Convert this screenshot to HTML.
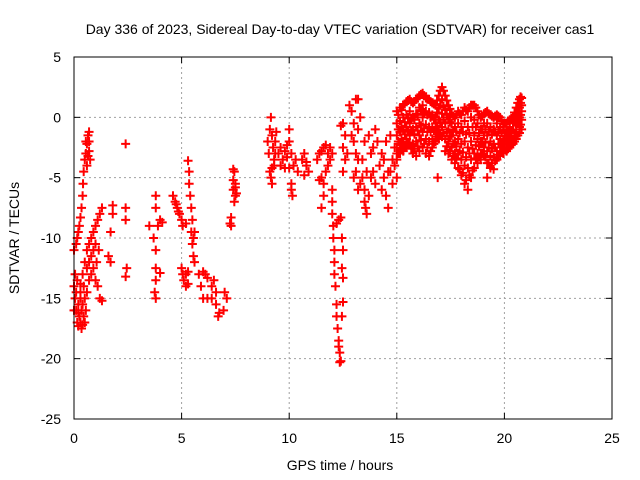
<!DOCTYPE html>
<html><head><meta charset="utf-8"><style>
body{margin:0;background:#fff;}
svg{display:block;font-family:"Liberation Sans",sans-serif;}
</style></head><body>
<svg id="chart" width="640" height="480" xmlns="http://www.w3.org/2000/svg">
<rect width="640" height="480" fill="#fff"/>
<text x="340" y="34" font-size="14" text-anchor="middle">Day 336 of 2023, Sidereal Day-to-day VTEC variation (SDTVAR) for receiver cas1</text>
<text transform="translate(19,238) rotate(-90)" font-size="14" text-anchor="middle">SDTVAR / TECUs</text>
<text x="340" y="470" font-size="14" text-anchor="middle">GPS time / hours</text>
<g id="grid"></g><g id="ticks"></g><g id="marks"></g>
<rect x="74" y="57" width="538" height="362" fill="none" stroke="#000" stroke-width="1"/>
</svg>
<script>
const xTicks=[0,5,10,15,20,25];
const yTicks=[5,0,-5,-10,-15,-20,-25];
const morningPts=[[0.0,-14],[0.05,-15],[0.1,-16],[0.15,-17],[0.2,-17.3],[0.25,-16.5],[0.3,-17],[0.35,-16],[0.4,-17.2],[0.45,-16.5],[0.5,-17],[0.55,-16],[0.1,-14.5],[0.2,-15.5],[0.3,-15],[0.4,-15.5],[0.5,-15],[0.05,-13],[0.15,-13.5],[0.3,-13.8],[0.0,-16],[0.2,-16.2],[0.35,-17.5],[0.45,-14],[0.6,-14.5],
[0.0,-11],[0.1,-10.5],[0.15,-10],[0.2,-9.5],[0.25,-9],[0.3,-8.3],[0.35,-7.5],[0.4,-6.5],[0.42,-5.5],[0.45,-4.5],[0.5,-3.5],[0.55,-3],[0.6,-2.2],[0.65,-1.5],[0.7,-1.2],[0.7,-2.8],[0.75,-3.5],[0.65,-3.2],[0.6,-4],[0.55,-2],[0.7,-2],
[0.3,-14.5],[0.4,-13],[0.5,-12],[0.6,-11],[0.7,-10.5],[0.8,-10],[0.9,-9.5],[1.0,-9],[1.1,-8.5],[1.2,-8],[1.3,-7.5],[0.6,-12.5],[0.7,-12],[0.8,-11.5],[0.9,-11],[1.0,-10.5],[0.8,-13],[0.9,-12.5],[1.0,-13.5],[1.1,-14],[1.2,-15],[1.3,-15.2],[0.7,-13.5],[1.05,-12],[1.15,-11],
[1.7,-9.5],[1.8,-8],[1.8,-7.3],[1.6,-11.5],[1.7,-12],[2.4,-2.2],[2.4,-7.5],[2.4,-8.5],[2.45,-12.5],[2.4,-13.2],[3.5,-9],[3.8,-6.5],[3.8,-7.5],[3.9,-9],[3.7,-10],[3.8,-11],[3.8,-12.5],[3.8,-13.5],[3.75,-14.5],[3.8,-15],[4.0,-12.9],[4.0,-8.5],[4.1,-8.7],[4.6,-6.5],[4.7,-7],[4.8,-7.5],[4.9,-8],[5.0,-8.5],[4.75,-7.2],[4.85,-7.8],[5.05,-9],[5.2,-8.8],[5.3,-12.8],[5.0,-12.5],[5.05,-13],[5.1,-13.5],[5.2,-14],[5.3,-13.8],[5.2,-13],[5.3,-3.6],[5.35,-4.5],[5.35,-5.5],[5.4,-6.5],[5.45,-7.5],[5.5,-8.5],[5.45,-9.5],[5.5,-10.5],[5.55,-11.5],[5.6,-12],[5.6,-9.5],[5.55,-10],[6.2,-15],[6.4,-15],[6.0,-15],[5.8,-13],[5.9,-14],[6.0,-12.8],[6.1,-13],[6.2,-13.3],[6.4,-14],[6.6,-15.5],[6.7,-16.5],[6.75,-16.2],[6.6,-14.5],[6.5,-13.5],[7.0,-14.5],[7.1,-15],[6.95,-16],[7.3,-8.3],[7.25,-8.8],[7.3,-9],[7.4,-4.3],[7.45,-4.5],[7.5,-5.5],[7.4,-6],[7.5,-6.5],[7.45,-7],[7.5,-5.8],[7.55,-6.3],[7.4,-5.2]];
const afternoonPts=[[9.0,-2],[9.05,-3],[9.1,-1],[9.15,0],[9.2,-1.5],[9.25,-2.5],[9.3,-3.5],[9.2,-4.2],[9.1,-4.5],[9.15,-5],[9.2,-5.5],[9.3,-4],[9.35,-2],[9.4,-1.2],[9.35,-3],
[9.5,-3],[9.6,-2.5],[9.7,-3.5],[9.8,-2.8],[9.9,-3.3],[10.0,-2],[10.0,-1],[10.1,-3],[10.2,-4],[10.3,-3.5],[10.4,-4.5],[9.6,-4],[9.8,-4.2],[10.0,-4.2],[10.1,-6],[10.15,-6.5],[10.1,-5.5],[9.9,-2.3],
[10.6,-3.5],[10.7,-3],[10.8,-4],[10.9,-4.5],[10.7,-4.8],[10.8,-3.7],
[11.3,-3.5],[11.4,-3],[11.5,-2.8],[11.6,-2.5],[11.7,-2.3],[11.8,-3],[11.9,-2.5],[12.0,-3],[11.5,-5],[11.6,-5.5],[11.7,-4.5],[11.4,-5.2],[11.6,-6.5],[11.5,-7.5],[11.8,-4],[11.9,-3.5],
[12.0,-6],[12.0,-7],[12.0,-8],[12.05,-9],[12.05,-10],[12.1,-11],[12.1,-12],[12.1,-13],[12.15,-14],[12.2,-15.5],[12.2,-16.5],[12.25,-17.5],[12.3,-18.5],[12.3,-19],[12.35,-19.5],[12.35,-20.3],[12.4,-20.2],[12.3,-8.5],[12.4,-8.3],[12.45,-10],[12.5,-11],[12.45,-12.5],[12.5,-13.3],[12.5,-15.3],[12.45,-16.5],[12.2,-8.8],
[12.4,-0.7],[12.5,-0.5],[12.6,-1.5],[12.5,-2.5],[12.6,-3.5],[12.5,-4.5],[12.7,-3],
[12.8,1],[12.9,0.5],[13.0,-0.5],[13.1,1.5],[13.2,1.5],[13.0,-2],[13.1,-3],[13.2,-1],[12.9,-1.5],[13.3,0],[13.0,-5],[13.1,-4.5],[13.2,-6],[13.3,-5.5],[13.2,-3.5],
[13.4,-5],[13.5,-6],[13.5,-7],[13.6,-8],[13.55,-7.5],[13.7,-6.5],[13.6,-4.5],[13.8,-5],[13.9,-4.5],[14.0,-5.5],[13.5,-2],[13.7,-1.5],[13.9,-2.5],[14.0,-1],[14.1,-2],[13.8,-3],[13.4,-3.5],
[14.2,-4],[14.3,-6],[14.4,-5],[14.5,-6.5],[14.6,-7.5],[14.7,-4.5],[14.8,-3.5],[14.9,-4],[15.0,-5],[14.3,-3],[14.5,-2],[14.7,-1.5],[14.9,-2.5],[15.0,-3],[14.6,-4.5],[14.4,-3.5],[14.8,-5.5],[16.9,-5],[19.2,-5]];
const denseHours=[15.0,15.15,15.3,15.45,15.6,15.75,15.9,16.05,16.2,16.35,16.5,16.65,16.8,16.95,17.1,17.25,17.4,17.55,17.7,17.85,18.0,18.15,18.3,18.45,18.6,18.75,18.9,19.05,19.2,19.35,19.5,19.65,19.8,19.95,20.1,20.25,20.4,20.55,20.7,20.8];
const denseVals=[[0.5,-0.5,-1.5,-2.5,-3.5],[0.8,-0.3,-1.2,-2.2,-3],[1,0,-1,-2,-2.8],[1.3,0.2,-0.8,-1.8,-2.5],[1.5,0.5,-0.5,-1.5,-2.2],[1.2,0,-1,-2.2,-3],[1.5,0.3,-0.8,-2,-3.2],[1.8,0.8,-0.5,-1.5,-2.8],[2,1,0,-1.2,-2.5],[1.6,0.5,-0.6,-1.8,-3],[1.5,0.4,-0.8,-2,-3.2],[1.2,0.2,-0.9,-1.8,-2.5],[1,0,-0.5,-1.2,-2],[1.8,0.8,-0.2,-1,-1.8],[2.5,1.5,0.3,-0.8,-1.6],[1.8,0.6,-0.5,-1.8,-2.8],[1,0,-1,-2,-3],[0.3,-0.5,-1.5,-2.5,-3.5],[0,-0.8,-2,-3,-3.8],[0.5,-0.5,-1.8,-3,-4.2],[0.2,-0.8,-2.2,-3.5,-4.8],[0.8,-0.3,-2,-4,-5.5],[0.5,-0.8,-2.5,-4.2,-6],[1,0,-2,-3.5,-5],[1,-0.2,-1.5,-3,-4.2],[0.5,-0.5,-1.8,-3,-3.8],[0,-1,-2,-3,-3.5],[0.3,-0.5,-1.5,-2.5,-3.2],[0.5,-0.5,-1.5,-2.8,-3.8],[0.2,-0.8,-2,-3.2,-4.2],[0,-1,-2.2,-3.3,-4.3],[0.2,-0.5,-1.5,-2.8,-3.5],[0,-0.8,-1.8,-2.5,-3.2],[-0.5,-1,-1.8,-2.5,-3],[-0.5,-1,-1.5,-2.2,-2.8],[-0.2,-0.8,-1.5,-2,-2.5],[0,-0.5,-1,-1.8,-2.2],[0.8,0.2,-0.5,-1.2,-1.8],[1.5,0.8,0,-0.8,-1.3],[1.6,1,0.5,-0.2,-1]];
const denseHours2=[15.07,15.22,15.37,15.52,15.67,15.82,15.97,16.12,16.27,16.42,16.57,16.72,16.87,17.02,17.17,17.32,17.47,17.62,17.77,17.92,18.07,18.22,18.37,18.52,18.67,18.82,18.97,19.12,19.27,19.42,19.57,19.72,19.87,20.02,20.17,20.32,20.47,20.62,20.75];
const denseVals2=[[0.2,-1,-2,-3],[0.6,-0.8,-1.8,-2.6],[1.1,-0.4,-1.4,-2.4],[1.4,0,-1.2,-2.1],[1.3,-0.1,-1.1,-2.6],[1.3,-0.2,-1.4,-2.6],[1.6,0.2,-1.1,-2.4],[1.9,0.6,-0.7,-1.9],[1.8,0.4,-0.9,-2.2],[1.5,0.2,-1.2,-2.5],[1.3,0,-1.2,-2.8],[1.1,-0.2,-1.1,-2.2],[1.4,0.4,-0.8,-1.6],[2.2,1,-0.4,-1.4],[2.2,0.9,-0.2,-1.3],[1.4,0.2,-1.2,-2.4],[0.7,-0.4,-1.6,-2.8],[0.1,-1.1,-2.2,-3.2],[0.2,-1.2,-2.4,-3.4],[0.3,-1.3,-2.8,-4.3],[0.5,-1.2,-2.9,-4.6],[0.6,-1.4,-3.3,-5.2],[0.8,-1.3,-3,-4.8],[1,-0.8,-2.6,-4.4],[0.8,-0.8,-2.3,-3.4],[0.2,-1.3,-2.4,-3.3],[0.1,-1,-2,-3],[0.4,-1,-2.1,-3.3],[0.3,-1.2,-2.5,-3.8],[0.1,-1.4,-2.6,-3.8],[0.1,-1.2,-2.5,-3.6],[0.1,-1.2,-2.2,-3.1],[-0.3,-1.3,-2.2,-2.9],[-0.5,-1.3,-2.0,-2.7],[-0.3,-1.2,-1.9,-2.6],[-0.1,-1.1,-1.7,-2.3],[0.4,-0.4,-1.3,-2],[1.2,0.4,-0.4,-1.5],[1.7,1.2,0.2,-0.6]];

const X0=74,X1=612,Y0=57,Y1=419;
function xs(h){return X0+(h-0)/(25-0)*(X1-X0);}
function ys(v){return Y0+(5-v)/(5-(-25))*(Y1-Y0);}
const NS='http://www.w3.org/2000/svg';
function mk(tag,attrs,parent){const e=document.createElementNS(NS,tag);for(const k in attrs)e.setAttribute(k,attrs[k]);parent.appendChild(e);return e;}
const grid=document.getElementById('grid'),ticks=document.getElementById('ticks'),marks=document.getElementById('marks');
xTicks.forEach(t=>{const x=xs(t);
 if(t>0&&t<25){const g=mk('line',{x1:x,x2:x,y1:Y0,y2:Y1,stroke:'#a0a0a0','stroke-dasharray':'2,3'},grid);
 
 }
 const l=mk('text',{x:x,y:443,'font-size':14,'text-anchor':'middle'},ticks);l.textContent=t;
 
 
 mk('line',{x1:x,x2:x,y1:Y1,y2:Y1-6,stroke:'#000'},ticks);mk('line',{x1:x,x2:x,y1:Y0,y2:Y0+6,stroke:'#000'},ticks);
});
yTicks.forEach(t=>{const y=ys(t);
 if(t<5&&t>-25){const g=mk('line',{x1:X0,x2:X1,y1:y,y2:y,stroke:'#a0a0a0','stroke-dasharray':'2,3'},grid);
 
 }
 const l=mk('text',{x:61,y:y+5,'font-size':14,'text-anchor':'end'},ticks);l.textContent=t;
 
 
 mk('line',{x1:X0,x2:X0+6,y1:y,y2:y,stroke:'#000'},ticks);mk('line',{x1:X1,x2:X1-6,y1:y,y2:y,stroke:'#000'},ticks);
});
function cross(h,v){const x=xs(h),y=ys(v);
 const p=mk('path',{d:`M${x-4.5},${y}H${x+4.5}M${x},${y-4.5}V${y+4.5}`,stroke:'#f00','stroke-width':2,fill:'none'},marks);
 
 
}
morningPts.forEach(p=>cross(p[0],p[1]));
afternoonPts.forEach(p=>cross(p[0],p[1]));
denseHours.forEach((h,i)=>denseVals[i].forEach(v=>cross(h,v)));
denseHours2.forEach((h,i)=>denseVals2[i].forEach(v=>cross(h,v)));
</script>
</body></html>
